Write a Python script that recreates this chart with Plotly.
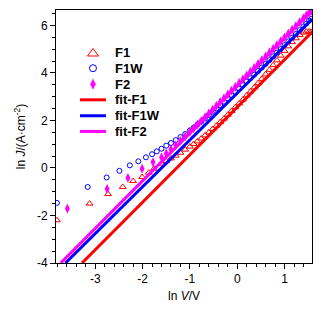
import plotly.graph_objects as go

# ---- data ----
x_dense = [-1.60, -1.50, -1.40, -1.30, -1.20, -1.10, -1.00, -0.92, -0.84, -0.76,
           -0.68, -0.60, -0.52, -0.44, -0.36, -0.28, -0.20, -0.12, -0.04, 0.04,
           0.12, 0.20, 0.28, 0.36, 0.44, 0.52, 0.60, 0.68, 0.76, 0.84,
           0.92, 1.00, 1.08, 1.16, 1.24, 1.32, 1.40, 1.46, 1.52, 1.56]

f1_x_sparse = [-3.81, -3.12, -2.73, -2.42, -2.20, -2.01, -1.87, -1.76]
f1_y_sparse = [-2.20, -1.50, -1.10, -0.80, -0.55, -0.38, -0.20, -0.03]
f1_y_dense = [0.18, 0.29, 0.40, 0.52, 0.64, 0.77, 0.90, 1.01, 1.12, 1.24,
              1.37, 1.50, 1.64, 1.78, 1.93, 2.08, 2.24, 2.40, 2.56, 2.72,
              2.88, 3.05, 3.22, 3.39, 3.57, 3.75, 3.94, 4.13, 4.33, 4.53,
              4.73, 4.93, 5.12, 5.30, 5.46, 5.60, 5.70, 5.74, 5.75, 5.73]

f1w_x_sparse = [-3.81, -3.16, -2.76, -2.49, -2.27, -2.09, -1.93, -1.80, -1.70]
f1w_y_sparse = [-1.47, -0.80, -0.40, -0.12, 0.11, 0.28, 0.45, 0.58, 0.70]
f1w_y_dense = [0.81, 0.94, 1.05, 1.17, 1.30, 1.43, 1.58, 1.70, 1.83, 1.95,
               2.09, 2.23, 2.37, 2.51, 2.65, 2.79, 2.93, 3.07, 3.20, 3.34,
               3.49, 3.64, 3.78, 3.93, 4.08, 4.23, 4.38, 4.54, 4.70, 4.86,
               5.01, 5.17, 5.33, 5.49, 5.64, 5.80, 5.96, 6.08, 6.20, 6.27]

f2_x_sparse = [-3.59, -2.75, -2.31, -2.01, -1.78]
f2_y_sparse = [-1.71, -0.88, -0.42, -0.03, 0.25]
f2_y_dense = [0.45, 0.61, 0.78, 0.96, 1.14, 1.33, 1.52, 1.67, 1.83, 1.98,
              2.14, 2.30, 2.46, 2.62, 2.78, 2.94, 3.10, 3.26, 3.42, 3.58,
              3.74, 3.90, 4.06, 4.22, 4.38, 4.54, 4.70, 4.86, 5.02, 5.18,
              5.34, 5.50, 5.66, 5.82, 5.98, 6.14, 6.30, 6.42, 6.54, 6.60]

fit_f1_x = [-3.28, 1.58]
fit_f1_y = [-4.00, 5.72]
fit_f1w_x = [-3.63, 1.58]
fit_f1w_y = [-4.00, 6.27]
fit_f2_x = [-3.73, 1.58]
fit_f2_y = [-4.00, 6.62]

x_ticks = [-3, -2, -1, 0, 1]
x_ticktext = ["-3", "-2", "-1", "0", "1"]
y_ticks = [-4, -2, 0, 2, 4, 6]
y_ticktext = ["-4", "-2", "0", "2", "4", "6"]

legend_names = ["F1", "F1W", "F2", "fit-F1", "fit-F1W", "fit-F2"]

RED = "#ff0000"
BLUE = "#0000ff"
MAG = "#ff00ff"
FONT = "Liberation Sans, Arial, sans-serif"

fig = go.Figure()
fig.add_trace(go.Scatter(
    x=f1_x_sparse + x_dense, y=f1_y_sparse + f1_y_dense, mode="markers", name=legend_names[0],
    marker=dict(symbol="triangle-up-open", size=6, color=RED, line=dict(width=1, color=RED))))
fig.add_trace(go.Scatter(
    x=f1w_x_sparse + x_dense, y=f1w_y_sparse + f1w_y_dense, mode="markers", name=legend_names[1],
    marker=dict(symbol="circle-open", size=5, color=BLUE, line=dict(width=1, color=BLUE))))
fig.add_trace(go.Scatter(
    x=f2_x_sparse + x_dense, y=f2_y_sparse + f2_y_dense, mode="markers", name=legend_names[2],
    marker=dict(symbol="diamond-tall", size=7, color=MAG, line=dict(width=0))))
fig.add_trace(go.Scatter(
    x=fit_f1_x, y=fit_f1_y, mode="lines", name=legend_names[3],
    line=dict(color=RED, width=3)))
fig.add_trace(go.Scatter(
    x=fit_f1w_x, y=fit_f1w_y, mode="lines", name=legend_names[4],
    line=dict(color=BLUE, width=3)))
fig.add_trace(go.Scatter(
    x=fit_f2_x, y=fit_f2_y, mode="lines", name=legend_names[5],
    line=dict(color=MAG, width=3)))

axis_common = dict(
    showgrid=False, zeroline=False, showline=True, linecolor="black", linewidth=1,
    mirror=True, ticks="outside", tickcolor="black", tickwidth=1,
    tickfont=dict(family=FONT, size=12, color="black"),
)

fig.update_xaxes(
    **axis_common, range=[-3.83, 1.58], tickmode="array", tickvals=x_ticks,
    ticktext=x_ticktext, ticklen=5,
    minor=dict(tickmode="linear", tick0=0, dtick=0.2, ticks="outside", ticklen=3,
               tickcolor="black", showgrid=False),
    title=dict(text="ln <i>V</i>/V", font=dict(family=FONT, size=12, color="black"),
               standoff=6),
)
fig.update_yaxes(
    **axis_common, range=[-4, 6.65], tickmode="array", tickvals=y_ticks,
    ticktext=y_ticktext, ticklen=5,
    minor=dict(tickmode="linear", tick0=0, dtick=0.5, ticks="outside", ticklen=3,
               tickcolor="black", showgrid=False),
    title=dict(text="ln <i>J</i>/(A·cm<sup>-2</sup>)",
               font=dict(family=FONT, size=12, color="black"), standoff=8),
)

# ---- legend (drawn as shapes + annotations for compact row spacing) ----
L_SYM_X = 0.1445
L_TXT_X = 0.2227
L_ROWS = [0.832, 0.770, 0.707, 0.645, 0.582, 0.520]
line_colors = [RED, BLUE, MAG]
shapes = []
shapes.append(dict(type="path", xref="paper", yref="paper", xsizemode="pixel", ysizemode="pixel",
                   xanchor=L_SYM_X, yanchor=L_ROWS[0],
                   path="M -5.5,-3.5 L 5.5,-3.5 L 0,4 Z", line=dict(color=RED, width=1)))
shapes.append(dict(type="circle", xref="paper", yref="paper", xsizemode="pixel", ysizemode="pixel",
                   xanchor=L_SYM_X, yanchor=L_ROWS[1], x0=-3.5, x1=3.5, y0=-3.5, y1=3.5,
                   line=dict(color=BLUE, width=1)))
shapes.append(dict(type="path", xref="paper", yref="paper", xsizemode="pixel", ysizemode="pixel",
                   xanchor=L_SYM_X, yanchor=L_ROWS[2],
                   path="M 0,5 L 2.5,0 L 0,-5 L -2.5,0 Z", fillcolor=MAG, line=dict(color=MAG, width=0.5)))
for i, c in enumerate(line_colors):
    shapes.append(dict(type="line", xref="paper", yref="paper", x0=0.0938, x1=0.1953,
                       y0=L_ROWS[3 + i], y1=L_ROWS[3 + i], line=dict(color=c, width=3)))
annotations = []
for name, yy in zip(legend_names, L_ROWS):
    annotations.append(dict(text=name, xref="paper", yref="paper", x=L_TXT_X, y=yy,
                            xanchor="left", yanchor="middle", showarrow=False,
                            font=dict(family=FONT, size=13, color="black", weight="bold")))

fig.update_layout(
    width=328, height=310,
    margin=dict(l=56, r=16, t=9, b=45),
    paper_bgcolor="white", plot_bgcolor="white",
    font=dict(family=FONT, color="black"),
    showlegend=False,
    shapes=shapes, annotations=annotations,
)

fig.write_html("out.html", config={"displayModeBar": False},
               post_script="document.body.style.margin='0';")
